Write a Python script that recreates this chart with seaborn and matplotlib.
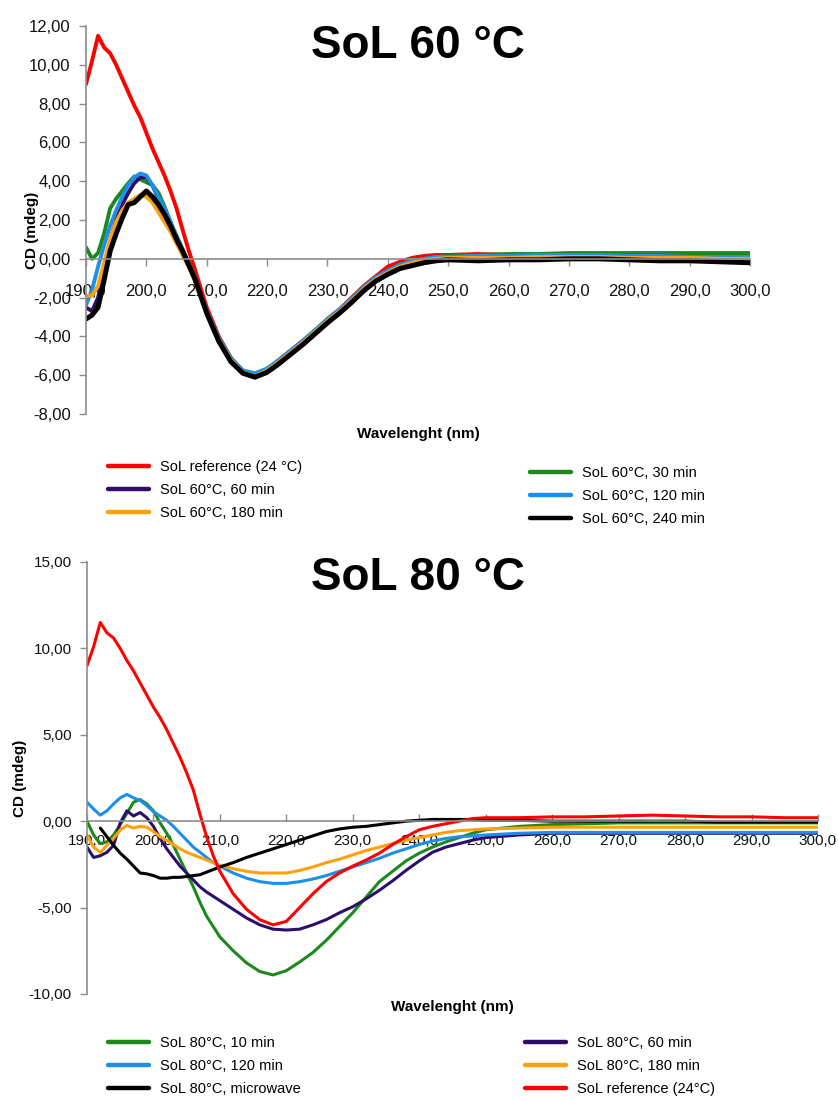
import matplotlib
matplotlib.use("Agg")
import matplotlib.pyplot as plt
import seaborn as sns
from matplotlib.ticker import FuncFormatter, MultipleLocator
from matplotlib.lines import Line2D

nan = float("nan")

# wavelength grid (nm), shared by both panels
wavelength = [190, 191, 192, 193, 194, 195, 196, 197, 198, 199, 200,
              201, 202, 203, 204, 205, 206, 207, 208, 209, 210,
              212, 214, 216, 218, 220, 222, 224, 226, 228, 230,
              232, 234, 236, 238, 240, 242, 244, 246, 248, 250,
              255, 260, 265, 270, 275, 280, 285, 290, 295, 300]

# ---- SoL 60 °C (CD, mdeg) ----
ref_60 = [9.0, 10.2, 11.5, 10.9, 10.6, 10.0, 9.3, 8.6, 7.9, 7.3, 6.5,
          5.7, 5.0, 4.3, 3.5, 2.6, 1.5, 0.45, -0.5, -1.5, -2.5,
          -4.0, -5.1, -5.8, -6.0, -5.7, -5.2, -4.7, -4.2, -3.7, -3.1,
          -2.6, -2.0, -1.4, -0.9, -0.4, -0.15, 0.05, 0.15, 0.2, 0.2,
          0.25, 0.2, 0.2, 0.25, 0.2, 0.2, 0.15, 0.15, 0.15, 0.15]
s60_30 = [0.6, 0.0, 0.3, 1.3, 2.6, 3.1, 3.5, 3.9, 4.25, 4.1, 3.95,
          3.8, 3.4, 2.7, 1.9, 1.2, 0.5, -0.2, -0.9, -1.85, -2.7,
          -4.1, -5.15, -5.8, -6.05, -5.75, -5.3, -4.8, -4.3, -3.75, -3.2,
          -2.7, -2.1, -1.5, -1.0, -0.6, -0.3, -0.1, 0.0, 0.1, 0.15,
          0.2, 0.25, 0.25, 0.3, 0.3, 0.3, 0.3, 0.3, 0.3, 0.3]
s60_60 = [-2.5, -2.7, -2.0, -0.6, 0.9, 2.0, 2.8, 3.4, 3.9, 4.2, 4.2,
          3.8, 3.1, 2.5, 1.8, 1.0, 0.4, -0.3, -1.0, -1.9, -2.75,
          -4.15, -5.2, -5.8, -6.0, -5.7, -5.25, -4.75, -4.25, -3.7, -3.15,
          -2.65, -2.1, -1.5, -1.0, -0.65, -0.35, -0.15, -0.05, 0.05, 0.1,
          0.1, 0.1, 0.15, 0.15, 0.1, 0.1, 0.1, 0.05, 0.05, 0.05]
s60_120 = [-2.4, -1.6, -0.4, 0.7, 1.7, 2.5, 3.2, 3.8, 4.2, 4.4, 4.3,
           3.8, 3.2, 2.6, 1.9, 1.1, 0.45, -0.25, -0.95, -1.85, -2.7,
           -4.1, -5.1, -5.75, -5.9, -5.65, -5.2, -4.7, -4.2, -3.65, -3.1,
           -2.6, -2.05, -1.45, -0.95, -0.6, -0.3, -0.1, 0.0, 0.1, 0.1,
           0.15, 0.15, 0.2, 0.2, 0.2, 0.15, 0.15, 0.1, 0.1, 0.1]
s60_180 = [-1.9, -1.9, -1.4, -0.2, 1.0, 1.9, 2.5, 2.9, 3.1, 3.3, 3.2,
           2.9, 2.4, 1.9, 1.4, 0.8, 0.2, -0.4, -1.1, -1.95, -2.8,
           -4.2, -5.2, -5.85, -6.05, -5.75, -5.3, -4.8, -4.3, -3.75, -3.2,
           -2.7, -2.15, -1.55, -1.05, -0.7, -0.4, -0.2, -0.05, 0.0, 0.05,
           0.05, 0.05, 0.1, 0.1, 0.1, 0.05, 0.05, 0.05, 0.0, 0.0]
s60_240 = [-3.1, -2.9, -2.5, -1.1, 0.4, 1.3, 2.1, 2.8, 2.9, 3.2, 3.5,
           3.2, 2.8, 2.3, 1.7, 1.0, 0.4, -0.3, -1.0, -1.9, -2.8,
           -4.25, -5.3, -5.9, -6.1, -5.85, -5.4, -4.9, -4.4, -3.85, -3.3,
           -2.8, -2.25, -1.65, -1.15, -0.8, -0.5, -0.35, -0.2, -0.1, -0.05,
           -0.1, -0.05, -0.05, 0.0, 0.0, -0.05, -0.1, -0.1, -0.15, -0.2]

# ---- SoL 80 °C (CD, mdeg) ----
ref_80 = [9.0, 10.1, 11.5, 10.9, 10.6, 10.0, 9.3, 8.7, 8.0, 7.3, 6.6,
          6.0, 5.3, 4.5, 3.7, 2.8, 1.8, 0.4, -0.9, -2.0, -2.9,
          -4.2, -5.1, -5.7, -6.0, -5.8, -5.0, -4.2, -3.5, -3.0, -2.6,
          -2.25, -1.85, -1.35, -0.9, -0.5, -0.3, -0.15, 0.0, 0.15, 0.2,
          0.2, 0.25, 0.25, 0.3, 0.35, 0.3, 0.25, 0.25, 0.2, 0.2]
s80_10 = [0.0, -0.8, -1.3, -1.2, -0.8, -0.2, 0.45, 1.1, 1.25, 1.0, 0.6,
          -0.1, -0.7, -1.4, -2.2, -3.0, -3.8, -4.7, -5.5, -6.1, -6.7,
          -7.5, -8.2, -8.7, -8.9, -8.65, -8.15, -7.6, -6.9, -6.1, -5.3,
          -4.4, -3.5, -2.9, -2.3, -1.85, -1.5, -1.2, -0.95, -0.7, -0.5,
          -0.3, -0.2, -0.15, -0.1, -0.1, -0.1, -0.1, -0.1, -0.1, -0.1]
s80_60 = [-1.5, -2.1, -2.0, -1.8, -1.4, -0.1, 0.6, 0.3, 0.5, 0.2, -0.3,
          -1.0, -1.6, -2.1, -2.6, -3.0, -3.4, -3.8, -4.1, -4.35, -4.6,
          -5.1, -5.6, -6.0, -6.25, -6.3, -6.25, -6.0, -5.7, -5.3, -4.95,
          -4.5, -4.0, -3.45, -2.85, -2.3, -1.8, -1.5, -1.3, -1.1, -0.95,
          -0.8, -0.7, -0.7, -0.7, -0.7, -0.7, -0.7, -0.7, -0.7, -0.7]
s80_120 = [1.1, 0.7, 0.35, 0.6, 1.0, 1.35, 1.55, 1.35, 1.2, 0.9, 0.55,
           0.3, 0.05, -0.3, -0.7, -1.1, -1.5, -1.8, -2.1, -2.4, -2.6,
           -3.0, -3.3, -3.5, -3.6, -3.6, -3.5, -3.35, -3.15, -2.9, -2.65,
           -2.4, -2.15, -1.85, -1.6, -1.35, -1.15, -1.0, -0.9, -0.85, -0.8,
           -0.7, -0.65, -0.65, -0.65, -0.65, -0.65, -0.65, -0.65, -0.65, -0.65]
s80_180 = [-0.8, -1.5, -1.8, -1.4, -1.0, -0.5, -0.25, -0.4, -0.3, -0.35, -0.6,
           -0.9, -1.1, -1.35, -1.6, -1.8, -1.95, -2.1, -2.25, -2.4, -2.55,
           -2.75, -2.9, -3.0, -3.0, -3.0, -2.85, -2.65, -2.4, -2.2, -1.95,
           -1.7, -1.5, -1.3, -1.1, -0.95, -0.8, -0.65, -0.55, -0.5, -0.45,
           -0.4, -0.35, -0.35, -0.35, -0.35, -0.35, -0.35, -0.35, -0.35, -0.35]
s80_mw = [nan, nan, -0.4, -0.9, -1.4, -1.85, -2.2, -2.6, -3.0, -3.05, -3.15,
          -3.3, -3.3, -3.25, -3.25, -3.2, -3.15, -3.1, -2.95, -2.8, -2.65,
          -2.4, -2.1, -1.85, -1.6, -1.35, -1.1, -0.85, -0.6, -0.45, -0.35,
          -0.3, -0.2, -0.1, 0.0, 0.05, 0.1, 0.1, 0.1, 0.1, 0.05,
          0.05, 0.0, 0.0, 0.0, 0.0, 0.0, -0.05, -0.05, -0.05, -0.05]

RED, GREEN, BLUE = "#FF0000", "#1B8A1B", "#1E8FE8"
PURPLE, ORANGE, BLACK = "#2D0F6B", "#FFA10A", "#000000"

sns.set_style("white")
plt.rcParams["font.family"] = ["Liberation Sans", "DejaVu Sans"]
plt.rcParams["text.color"] = "black"
plt.rcParams["axes.labelcolor"] = "black"
FONT = ["Liberation Sans", "DejaVu Sans"]
AXGREY = "#8C8C8C"

fig = plt.figure(figsize=(8.38, 11), dpi=100)
ax1 = fig.add_axes([0.1026, 0.6236, 0.7924, 0.3527])
ax2 = fig.add_axes([0.1038, 0.0964, 0.8723, 0.3927])

fmt_x = FuncFormatter(lambda v, p: f"{v:.1f}".replace(".", ","))
fmt_y = FuncFormatter(lambda v, p: f"{v:.2f}".replace(".", ","))


def style_axis(ax, ylo, yhi, ystep, xpad, xdir, tick_size):
    ax.set_xlim(190, 300)
    ax.set_ylim(ylo, yhi)
    ax.xaxis.set_major_locator(MultipleLocator(10))
    ax.yaxis.set_major_locator(MultipleLocator(ystep))
    ax.xaxis.set_major_formatter(fmt_x)
    ax.yaxis.set_major_formatter(fmt_y)
    for s in ["top", "right"]:
        ax.spines[s].set_visible(False)
    ax.spines["bottom"].set_position(("data", 0))
    for s in ["left", "bottom"]:
        ax.spines[s].set_color(AXGREY)
        ax.spines[s].set_linewidth(1.2)
    ax.tick_params(axis="x", direction=xdir, length=5, width=1, color=AXGREY,
                   pad=xpad, labelsize=tick_size)
    ax.tick_params(axis="y", direction="out", length=5, width=1, color=AXGREY,
                   pad=6, labelsize=tick_size)
    ax.tick_params(bottom=True, left=True)
    for lab in ax.get_xticklabels() + ax.get_yticklabels():
        lab.set_family(FONT)
        lab.set_color("#111111")
    ax.grid(False)


# ---- top panel ----
top_series = [(ref_60, RED, 2.8), (s60_30, GREEN, 2.8), (s60_60, PURPLE, 2.8),
              (s60_120, BLUE, 2.8), (s60_180, ORANGE, 2.8), (s60_240, BLACK, 3.6)]
for vals, col, lw in top_series:
    sns.lineplot(x=wavelength, y=vals, ax=ax1, color=col, lw=lw,
                 estimator=None, sort=False)
style_axis(ax1, -8, 12, 2, 13, "out", 12)
ax1.set_ylabel("CD (mdeg)", fontsize=11, fontweight="bold")
ax1.yaxis.set_label_coords(-0.071, 0.474)
ax1.set_xlabel("Wavelenght (nm)", fontsize=11, fontweight="bold")
ax1.xaxis.set_label_coords(0.5, -0.034)

# ---- bottom panel ----
bot_series = [(s80_10, GREEN), (s80_60, PURPLE), (s80_120, BLUE),
              (s80_180, ORANGE), (s80_mw, BLACK), (ref_80, RED)]
for vals, col in bot_series:
    sns.lineplot(x=wavelength, y=vals, ax=ax2, color=col, lw=2.2,
                 estimator=None, sort=False)
style_axis(ax2, -10, 15, 5, 9, "in", 11)
ax2.set_ylabel("CD (mdeg)", fontsize=11, fontweight="bold")
ax2.yaxis.set_label_coords(-0.082, 0.5)
ax2.set_xlabel("Wavelenght (nm)", fontsize=11, fontweight="bold")
ax2.xaxis.set_label_coords(0.4993, -0.014)

# titles
fig.text(0.4988, 1 - 58 / 1100, "SoL 60 °C", ha="center", va="baseline",
         fontsize=33, fontweight="bold", color="black")
fig.text(0.4988, 1 - 590 / 1100, "SoL 80 °C", ha="center", va="baseline",
         fontsize=33, fontweight="bold", color="black")


def add_legend(entries, x_px, y_px):
    handles = [Line2D([], [], color=c, lw=3.2) for _, c in entries]
    labels = [t for t, _ in entries]
    fig.legend(handles, labels, loc="center left",
               bbox_to_anchor=(x_px / 838, 1 - y_px / 1100),
               frameon=False, borderpad=0, borderaxespad=0,
               handlelength=2.8, handletextpad=0.75, labelspacing=0.6,
               labelcolor="black", prop={"family": FONT, "size": 10.5})


add_legend([("SoL reference (24 °C)", RED), ("SoL 60°C, 60 min", PURPLE),
            ("SoL 60°C, 180 min", ORANGE)], 108, 490)
add_legend([("SoL 60°C, 30 min", GREEN), ("SoL 60°C, 120 min", BLUE),
            ("SoL 60°C, 240 min", BLACK)], 530, 496)
add_legend([("SoL 80°C, 10 min", GREEN), ("SoL 80°C, 120 min", BLUE),
            ("SoL 80°C, microwave", BLACK)], 108, 1066)
add_legend([("SoL 80°C, 60 min", PURPLE), ("SoL 80°C, 180 min", ORANGE),
            ("SoL reference (24°C)", RED)], 525, 1066)

fig.savefig("out.png", dpi=100)
